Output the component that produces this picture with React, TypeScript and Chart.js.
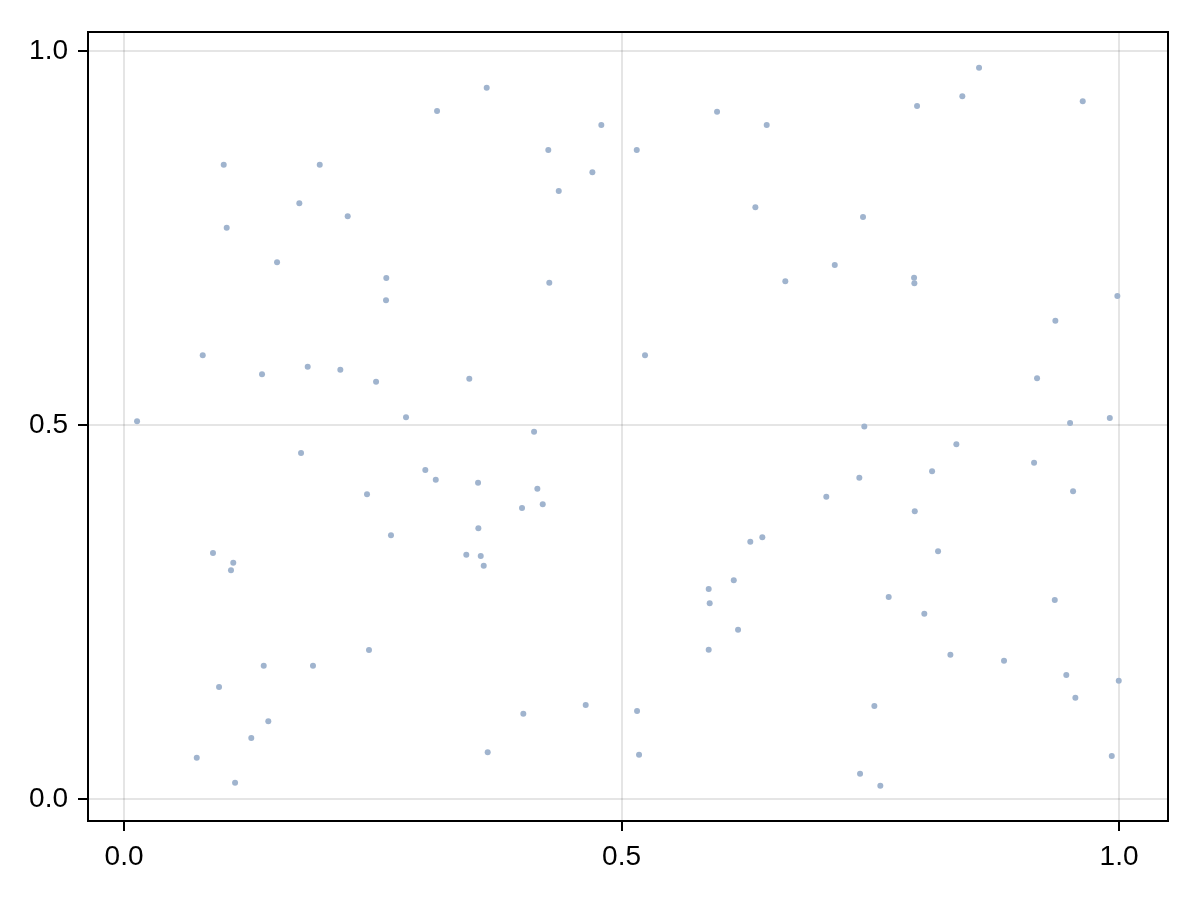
import React, { useEffect, useRef } from "react";
import { Chart, registerables } from "chart.js";

Chart.register(...registerables);

const xValues = [
  0.3146, 0.1002, 0.1967, 0.1762, 0.2248, 0.1032, 0.1538, 0.2636, 0.2633, 0.0791,
  0.1387, 0.1846, 0.2174, 0.2533, 0.0131, 0.2834, 0.3645, 0.5960, 0.4797, 0.6459,
  0.4264, 0.5153, 0.4707, 0.4369, 0.6345, 0.4274, 0.6646, 0.5236, 0.3470, 0.8593,
  0.8425, 0.7970, 0.9635, 0.7427, 0.7143, 0.7940, 0.7943, 0.9983, 0.9360, 0.9176,
  0.9508, 0.9907, 0.7440, 0.1779, 0.3028, 0.3133, 0.2442, 0.2683, 0.0894, 0.1098,
  0.1075, 0.2462, 0.1404, 0.1899, 0.0955, 0.1450, 0.1279, 0.0731, 0.1116, 0.4121,
  0.3558, 0.4154, 0.4208, 0.4000, 0.3561, 0.3440, 0.3585, 0.3615, 0.6294, 0.6415,
  0.6128, 0.5876, 0.5886, 0.6171, 0.5876, 0.4640, 0.4013, 0.5156, 0.3655, 0.5176,
  0.8365, 0.9146, 0.8121, 0.7390, 0.9538, 0.7058, 0.7947, 0.8181, 0.7685, 0.9354,
  0.8043, 0.8305, 0.8844, 0.9470, 0.9997, 0.9561, 0.7541, 0.9927, 0.7397, 0.7601,
];

const yValues = [
  0.9198, 0.8480, 0.8480, 0.7964, 0.7790, 0.7638, 0.7175, 0.6965, 0.6667, 0.5932,
  0.5678, 0.5780, 0.5739, 0.5579, 0.5049, 0.5103, 0.9510, 0.9189, 0.9011, 0.9011,
  0.8676, 0.8676, 0.8378, 0.8128, 0.7910, 0.6903, 0.6921, 0.5932, 0.5619, 0.9777,
  0.9394, 0.9265, 0.9327, 0.7781, 0.7139, 0.6969, 0.6894, 0.6725, 0.6394, 0.5624,
  0.5027, 0.5094, 0.4980, 0.4626, 0.4398, 0.4269, 0.4073, 0.3525, 0.3289, 0.3159,
  0.3057, 0.1992, 0.1782, 0.1782, 0.1497, 0.1039, 0.0816, 0.0552, 0.0218, 0.4910,
  0.4229, 0.4148, 0.3940, 0.3890, 0.3619, 0.3266, 0.3249, 0.3119, 0.3440, 0.3499,
  0.2924, 0.2807, 0.2616, 0.2263, 0.1996, 0.1257, 0.1140, 0.1176, 0.0624, 0.0592,
  0.4742, 0.4496, 0.4381, 0.4295, 0.4114, 0.4041, 0.3846, 0.3311, 0.2701, 0.2660,
  0.2477, 0.1929, 0.1849, 0.1658, 0.1582, 0.1354, 0.1243, 0.0575, 0.0338, 0.0178,
];

const tickValues = [0, 0.5, 1.0];
const tickLabels = ["0.0", "0.5", "1.0"];

const framePlugin = {
  id: "frame",
  afterDraw(chart: any) {
    const { ctx, chartArea } = chart;
    ctx.save();
    ctx.strokeStyle = "#000000";
    ctx.lineWidth = 2;
    ctx.strokeRect(chartArea.left, chartArea.top, chartArea.right - chartArea.left, chartArea.bottom - chartArea.top);
    ctx.restore();
  },
};

export default function App() {
  const canvasRef = useRef<HTMLCanvasElement | null>(null);

  useEffect(() => {
    document.body.style.margin = "0";
    const canvas = canvasRef.current;
    if (!canvas) return;
    const points = xValues.map((x, i) => ({ x, y: yValues[i] }));
    const fontSpec = { family: "'Liberation Sans', Arial, sans-serif", size: 28 };
    const gridSpec = {
      display: true,
      color: "rgba(0,0,0,0.1)",
      lineWidth: 2,
      drawTicks: true,
      tickLength: 10,
      tickColor: "#000000",
      tickWidth: 2,
    };
    const labelFor = (v: any) => {
      const i = tickValues.findIndex((t) => Math.abs(t - Number(v)) < 1e-9);
      return i >= 0 ? tickLabels[i] : "";
    };
    const chart = new Chart(canvas, {
      type: "scatter",
      data: {
        datasets: [
          {
            data: points,
            backgroundColor: "rgb(160,180,206)",
            borderWidth: 0,
            pointRadius: 3,
            pointHoverRadius: 3,
          },
        ],
      },
      options: {
        animation: false,
        responsive: false,
        devicePixelRatio: 1,
        layout: { padding: { top: 32, right: 32, left: 0, bottom: 0 } },
        plugins: { legend: { display: false }, tooltip: { enabled: false } },
        scales: {
          x: {
            type: "linear",
            min: -0.0362,
            max: 1.0492,
            grid: gridSpec,
            border: { display: true, color: "#000000", width: 2 },
            ticks: {
              color: "#000000",
              font: fontSpec,
              padding: 9,
              maxRotation: 0,
              callback: labelFor,
            },
            afterBuildTicks: (scale: any) => {
              scale.ticks = tickValues.map((v) => ({ value: v }));
            },
            afterFit: (scale: any) => {
              scale.height = 79;
            },
          },
          y: {
            type: "linear",
            min: -0.0294,
            max: 1.0254,
            grid: gridSpec,
            border: { display: true, color: "#000000", width: 2 },
            ticks: {
              color: "#000000",
              font: fontSpec,
              padding: 10,
              callback: labelFor,
            },
            afterBuildTicks: (scale: any) => {
              scale.ticks = tickValues.map((v) => ({ value: v }));
            },
            afterFit: (scale: any) => {
              scale.width = 88;
            },
          },
        },
      },
      plugins: [framePlugin],
    });
    return () => chart.destroy();
  }, []);

  return (
    <div style={{ width: 1200, height: 900 }}>
      <canvas ref={canvasRef} width={1200} height={900} style={{ display: "block" }} />
    </div>
  );
}
